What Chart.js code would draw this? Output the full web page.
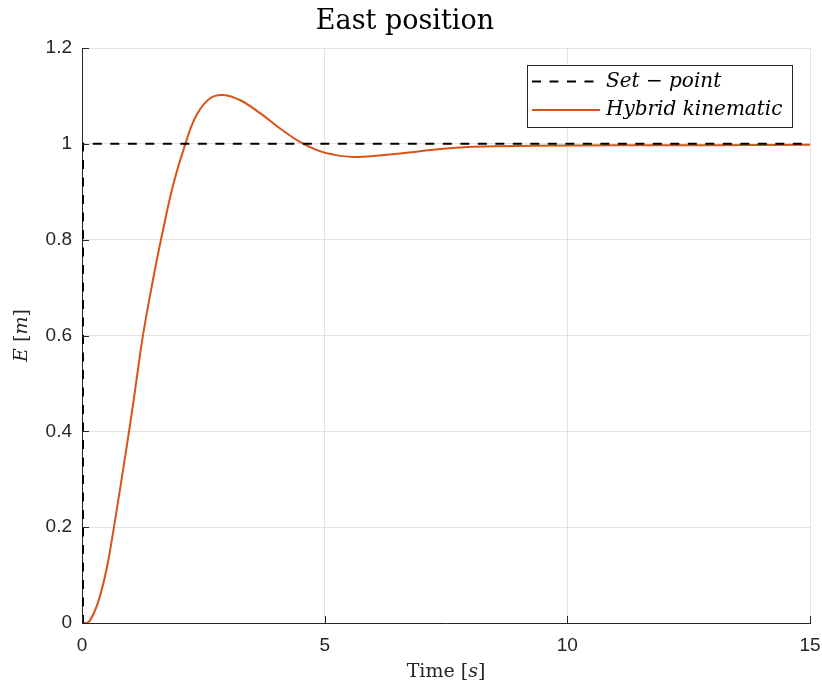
<!DOCTYPE html>
<html>
<head>
<meta charset="utf-8">
<title>East position</title>
<script src="https://cdn.jsdelivr.net/npm/chart.js@4.4.1/dist/chart.umd.min.js"></script>
<style>
  html, body { margin: 0; padding: 0; background: #ffffff; }
  #wrap { width: 822px; height: 689px; }
</style>
</head>
<body>
<div id="wrap"><canvas id="chart" width="822" height="689"></canvas></div>
<script>
// Time samples [s] and east position response [m]
const timeS = [0, 0.1, 0.17, 0.3, 0.44, 0.54, 0.65, 0.82, 0.98, 1.12, 1.26, 1.47, 1.64, 1.88, 2.13, 2.36, 2.64, 2.91, 3.26, 3.67, 4.08, 4.49, 4.84, 5.2, 5.66, 6.56, 7.38, 8.07, 9.3, 11, 13, 15];
const hybridE = [0, 0, 0.006, 0.034, 0.083, 0.13, 0.195, 0.303, 0.407, 0.505, 0.603, 0.72, 0.806, 0.915, 1.0, 1.06, 1.095, 1.102, 1.091, 1.064, 1.032, 1.004, 0.987, 0.977, 0.9725, 0.98, 0.989, 0.994, 0.996, 0.997, 0.997, 0.998];

// Step reference
const setPointT = [0, 0.02, 0.02, 15];
const setPointE = [0, 0, 1, 1];

// Axis ticks
const xTicks = [0, 5, 10, 15];
const yTicks = [0, 0.2, 0.4, 0.6, 0.8, 1, 1.2];

const seriesNames = ['Set \u2212 point', 'Hybrid kinematic'];

const AXIS_COLOR = '#262626';
const GRID_COLOR = '#e3e3e3';
const ORANGE = '#D95319';
const DASH = [9, 8.5];
const SERIF = '"DejaVu Serif", "Liberation Serif", serif';
const SANS = '"Liberation Sans", Arial, sans-serif';

const toPoints = (xs, ys) => xs.map((x, i) => ({ x: x, y: ys[i] }));

// Draws text made of runs with different fonts, centred on (cx, cy)
function drawRuns(ctx, runs, cx, cy, rotate) {
  ctx.save();
  ctx.translate(cx, cy);
  if (rotate) ctx.rotate(-Math.PI / 2);
  let total = 0;
  runs.forEach(r => { ctx.font = r.font; total += ctx.measureText(r.text).width; });
  let x = -total / 2;
  ctx.textBaseline = 'middle';
  ctx.textAlign = 'left';
  ctx.fillStyle = '#262626';
  runs.forEach(r => {
    ctx.font = r.font;
    ctx.fillText(r.text, x, 0);
    x += ctx.measureText(r.text).width;
  });
  ctx.restore();
}

const decorations = {
  id: 'decorations',
  afterDraw(chart) {
    const ctx = chart.ctx;
    const xs = chart.scales.x, ys = chart.scales.y;
    const area = chart.chartArea;
    const tick = 7;

    // inward ticks on the left and bottom axes
    ctx.save();
    ctx.strokeStyle = AXIS_COLOR;
    ctx.lineWidth = 1;
    ctx.beginPath();
    xTicks.forEach(v => {
      const px = Math.round(xs.getPixelForValue(v)) + 0.5;
      ctx.moveTo(px, area.bottom);
      ctx.lineTo(px, area.bottom - tick);
    });
    yTicks.forEach(v => {
      const py = Math.round(ys.getPixelForValue(v)) + 0.5;
      ctx.moveTo(area.left, py);
      ctx.lineTo(area.left + tick, py);
    });
    ctx.stroke();
    ctx.restore();

    // axis titles
    drawRuns(ctx, [
      { text: 'Time ', font: '19px ' + SERIF },
      { text: '[', font: '19px ' + SERIF },
      { text: 's', font: 'italic 19px ' + SERIF },
      { text: ']', font: '19px ' + SERIF }
    ], (area.left + area.right) / 2, 672, false);
    drawRuns(ctx, [
      { text: 'E ', font: 'italic 19px ' + SERIF },
      { text: '[', font: '19px ' + SERIF },
      { text: 'm', font: 'italic 19px ' + SERIF },
      { text: ']', font: '19px ' + SERIF }
    ], 22, (area.top + area.bottom) / 2, true);

    // legend box
    const bx = 527.5, by = 65.5, bw = 265, bh = 62;
    ctx.save();
    ctx.fillStyle = '#ffffff';
    ctx.fillRect(bx, by, bw, bh);
    ctx.strokeStyle = AXIS_COLOR;
    ctx.lineWidth = 1;
    ctx.strokeRect(bx, by, bw, bh);
    const rows = [81.5, 110];
    chart.data.datasets.forEach((ds, i) => {
      ctx.beginPath();
      ctx.strokeStyle = ds.borderColor;
      ctx.lineWidth = ds.borderWidth;
      ctx.setLineDash(ds.borderDash || []);
      ctx.moveTo(532, rows[i]);
      ctx.lineTo(600, rows[i]);
      ctx.stroke();
      ctx.setLineDash([]);
      ctx.font = 'italic 20px ' + SERIF;
      ctx.fillStyle = '#000000';
      ctx.textAlign = 'left';
      ctx.textBaseline = 'middle';
      ctx.fillText(ds.label, 606, rows[i]);
    });
    ctx.restore();
  }
};

new Chart(document.getElementById('chart'), {
  type: 'line',
  data: {
    datasets: [
      {
        label: seriesNames[0],
        data: toPoints(setPointT, setPointE),
        borderColor: '#000000',
        borderWidth: 2,
        borderDash: DASH,
        pointRadius: 0,
        tension: 0,
        fill: false,
        order: 1
      },
      {
        label: seriesNames[1],
        data: toPoints(timeS, hybridE),
        borderColor: ORANGE,
        borderWidth: 2,
        pointRadius: 0,
        tension: 0.4,
        fill: false,
        order: 2
      }
    ]
  },
  options: {
    responsive: false,
    animation: false,
    devicePixelRatio: 1,
    layout: { padding: { left: 0, right: 12, top: 0, bottom: 0 } },
    plugins: {
      legend: { display: false },
      tooltip: { enabled: false },
      title: {
        display: true,
        text: 'East position',
        color: '#000000',
        font: { family: SERIF, size: 27, weight: 'normal', lineHeight: 1.2 },
        padding: { top: 6, bottom: 9.6 }
      }
    },
    scales: {
      x: {
        type: 'linear',
        min: 0,
        max: 15,
        afterBuildTicks: s => { s.ticks = xTicks.map(v => ({ value: v })); },
        afterFit: s => { s.height = 66; s.paddingLeft = 0; s.paddingRight = 0; },
        ticks: {
          color: '#262626',
          font: { family: SANS, size: 19 },
          padding: 11,
          maxRotation: 0,
          callback: v => String(v)
        },
        grid: { color: GRID_COLOR, lineWidth: 1, drawTicks: false },
        border: { display: true, color: AXIS_COLOR, width: 1 }
      },
      y: {
        type: 'linear',
        min: 0,
        max: 1.2,
        afterBuildTicks: s => { s.ticks = yTicks.map(v => ({ value: v })); },
        afterFit: s => { s.width = 82; s.paddingTop = 0; s.paddingBottom = 0; },
        ticks: {
          color: '#262626',
          font: { family: SANS, size: 19 },
          padding: 10,
          callback: v => String(Math.round(v * 10) / 10)
        },
        grid: { color: GRID_COLOR, lineWidth: 1, drawTicks: false },
        border: { display: true, color: AXIS_COLOR, width: 1 }
      }
    }
  },
  plugins: [decorations]
});
</script>
</body>
</html>
